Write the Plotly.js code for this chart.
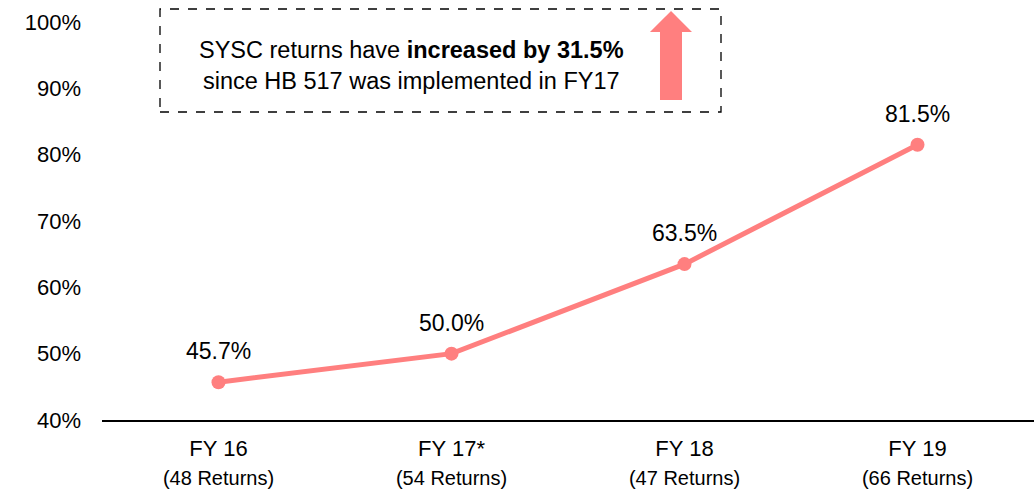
<!DOCTYPE html>
<html>
<head>
<meta charset="utf-8">
<script src="https://cdn.plot.ly/plotly-3.0.1.min.js"></script>
<style>html,body{margin:0;padding:0;background:#fff;}#chart{width:1034px;height:494px;}</style>
</head>
<body>
<div id="chart"></div>
<script>
const categories = ["FY 16", "FY 17*", "FY 18", "FY 19"];
const returnCounts = ["(48 Returns)", "(54 Returns)", "(47 Returns)", "(66 Returns)"];
const returnRates = [45.7, 50.0, 63.5, 81.5];
const yTickVals = [40, 50, 60, 70, 80, 90, 100];
const calloutLine1 = "SYSC returns have <b>increased by 31.5%</b>";
const calloutLine2 = "since HB 517 was implemented in FY17";

const COLOR = "#FF7F7F";
const FONT = "Liberation Sans, Arial, sans-serif";

const xIdx = categories.map((_, i) => i);

const trace = {
  x: xIdx,
  y: returnRates,
  type: "scatter",
  mode: "lines+markers",
  line: {color: COLOR, width: 5},
  marker: {color: COLOR, size: 14},
  hoverinfo: "skip",
  cliponaxis: false
};

const annotations = returnRates.map((v, i) => ({
  x: i, y: v, xref: "x", yref: "y",
  text: v.toFixed(1) + "%",
  showarrow: false,
  yshift: 31,
  font: {family: FONT, size: 23, color: "#000"}
}));

// px helpers for decoration (plot area: left 102, top 0, width 932, height 420)
const px = x => (x - 102) / 932;
const py = y => 1 - y / 420;

// callout text
annotations.push({
  xref: "paper", yref: "paper",
  x: px(411), y: py(65),
  xanchor: "center", yanchor: "middle",
  text: calloutLine1 + "<br>" + calloutLine2,
  showarrow: false,
  align: "center",
  font: {family: FONT, size: 23.5, color: "#000"}
});

const arrowPath = [
  [660, 100], [660, 32], [650, 32], [671, 11], [692, 32], [682, 32], [682, 100]
].map((p, i) => (i === 0 ? "M" : "L") + px(p[0]).toFixed(5) + "," + py(p[1]).toFixed(5)).join(" ") + " Z";

const shapes = [
  {
    type: "rect", xref: "paper", yref: "paper",
    x0: px(160), x1: px(721), y0: py(112), y1: py(9),
    line: {color: "#000", width: 1.3, dash: "dash"},
    fillcolor: "rgba(0,0,0,0)"
  },
  {
    type: "path", xref: "paper", yref: "paper",
    path: arrowPath,
    fillcolor: COLOR, line: {width: 0}
  }
];

const layout = {
  width: 1034, height: 494,
  margin: {l: 102, r: 0, t: 0, b: 74},
  paper_bgcolor: "#fff",
  plot_bgcolor: "#fff",
  showlegend: false,
  font: {family: FONT, color: "#000"},
  xaxis: {
    range: [-0.5, 3.5],
    tickvals: xIdx,
    ticktext: categories.map((c, i) => c + "<br><span style='font-size:20px'>" + returnCounts[i] + "</span>"),
    tickfont: {family: FONT, size: 22, color: "#000"},
    showgrid: false,
    zeroline: false,
    showline: true,
    linecolor: "#000",
    linewidth: 2,
    ticks: "",
    ticklabelstandoff: 8,
    fixedrange: true
  },
  yaxis: {
    range: [40, 40 + 420 / 6.633],
    tickvals: yTickVals,
    ticktext: yTickVals.map(v => v + "%"),
    tickfont: {family: FONT, size: 22, color: "#000"},
    showgrid: false,
    zeroline: false,
    showline: false,
    ticks: "",
    ticklabelstandoff: 20,
    fixedrange: true
  },
  annotations: annotations,
  shapes: shapes
};

Plotly.newPlot("chart", [trace], layout, {displayModeBar: false, staticPlot: true});
</script>
</body>
</html>
